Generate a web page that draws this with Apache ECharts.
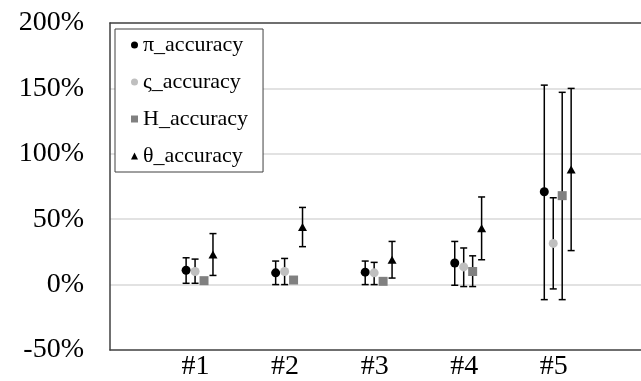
<!DOCTYPE html>
<html>
<head>
<meta charset="utf-8">
<script src="https://cdn.jsdelivr.net/npm/echarts@6/dist/echarts.min.js"></script>
<style>
html,body{margin:0;padding:0;background:#fff;}
#chart{width:641px;height:381px;}
</style>
</head>
<body>
<div id="chart"></div>
<script>
const categories = ['#1', '#2', '#3', '#4', '#5'];
const seriesNames = ['π_accuracy', 'ς_accuracy', 'H_accuracy', 'θ_accuracy'];

const piVal = [11, 9, 9.5, 16.5, 71];
const piLow = [1, 0, 0, -0.5, -11.5];
const piHigh = [20.5, 18, 18, 33, 152.5];

const sigmaVal = [10, 10, 9, 13.5, 31.5];
const sigmaLow = [1, 0, 0, -1.5, -3.3];
const sigmaHigh = [19.5, 20, 17, 28, 66.4];

const hVal = [3, 3.5, 2.5, 10, 68];
const hLow = [null, null, null, -1.5, -11.5];
const hHigh = [null, null, null, 22, 147];

const thetaVal = [23, 44, 19, 43, 88];
const thetaLow = [7, 29, 5, 19, 26];
const thetaHigh = [39, 59, 33, 67, 150];

const yMin = -50, yMax = 200, yStep = 50;
const xMin = 0, xMax = 5.93;

const FONT = "'Times New Roman', 'Liberation Serif', serif";
const offsets = [-0.15, -0.05, 0.05, 0.15];
const colors = ['#000000', '#bfbfbf', '#808080', '#000000'];
const symbols = ['circle', 'circle', 'rect', 'triangle'];
const vals = [piVal, sigmaVal, hVal, thetaVal];
const lows = [piLow, sigmaLow, hLow, thetaLow];
const highs = [piHigh, sigmaHigh, hHigh, thetaHigh];

const series = [];
// error bars
vals.forEach((v, s) => {
  const data = [];
  v.forEach((_, i) => {
    if (lows[s][i] != null && highs[s][i] != null) {
      data.push([i + 1 + offsets[s], lows[s][i], highs[s][i]]);
    }
  });
  series.push({
    type: 'custom',
    name: 'err' + s,
    z: 2,
    silent: true,
    data: data,
    encode: { x: 0, y: [1, 2] },
    renderItem: function (params, api) {
      const x = api.value(0);
      const lo = api.coord([x, api.value(1)]);
      const hi = api.coord([x, api.value(2)]);
      const cw = 3.5;
      const st = { stroke: '#000', lineWidth: 1.5 };
      return {
        type: 'group',
        children: [
          { type: 'line', shape: { x1: lo[0], y1: lo[1], x2: hi[0], y2: hi[1] }, style: st },
          { type: 'line', shape: { x1: lo[0] - cw, y1: lo[1], x2: lo[0] + cw, y2: lo[1] }, style: st },
          { type: 'line', shape: { x1: hi[0] - cw, y1: hi[1], x2: hi[0] + cw, y2: hi[1] }, style: st }
        ]
      };
    }
  });
});
// markers
vals.forEach((v, s) => {
  series.push({
    type: 'scatter',
    name: seriesNames[s],
    z: 5,
    symbol: symbols[s],
    symbolSize: symbols[s] === 'triangle' ? [9, 8] : 9,
    itemStyle: { color: colors[s], opacity: 1 },
    data: v.map((y, i) => [i + 1 + offsets[s], y])
  });
});

const chart = echarts.init(document.getElementById('chart'), null, { renderer: 'canvas' });
chart.setOption({
  animation: false,
  backgroundColor: '#ffffff',
  grid: {
    left: 110, top: 23, bottom: 28, right: 0,
    show: false,
    containLabel: false
  },
  legend: {
    orient: 'vertical',
    left: 115, top: 29,
    padding: [5, 15, 5, 16],
    itemWidth: 7, itemHeight: 7, itemGap: 15,
    borderColor: '#404040', borderWidth: 1,
    backgroundColor: '#ffffff',
    textStyle: { fontFamily: FONT, fontSize: 22, color: '#000' },
    data: seriesNames.map((n, s) => ({ name: n, icon: symbols[s] }))
  },
  xAxis: [{
    type: 'value', min: xMin, max: xMax, interval: 1,
    axisLine: { show: true, onZero: false, lineStyle: { color: '#404040', width: 1.5 } },
    axisTick: { show: false },
    splitLine: { show: false },
    axisLabel: {
      margin: 3,
      padding: [0, 8, 0, 0],
      fontFamily: FONT, fontSize: 28, color: '#000',
      showMaxLabel: false,
      formatter: v => categories[v - 1] || ''
    }
  }, {
    type: 'value', position: 'top', min: xMin, max: xMax, interval: 1,
    axisLine: { show: true, onZero: false, lineStyle: { color: '#404040', width: 1.5 } },
    axisTick: { show: false },
    splitLine: { show: false },
    axisLabel: { show: false }
  }],
  yAxis: {
    type: 'value', min: yMin, max: yMax, interval: yStep,
    axisLine: { show: true, onZero: false, lineStyle: { color: '#404040', width: 1.5 } },
    axisTick: { show: false },
    splitLine: { show: true, showMinLine: false, showMaxLine: false, lineStyle: { color: '#d9d9d9', width: 1.5 } },
    axisLabel: {
      margin: 26,
      fontFamily: FONT, fontSize: 28, color: '#000',
      formatter: v => v + '%'
    }
  },
  series: series
});
</script>
</body>
</html>
